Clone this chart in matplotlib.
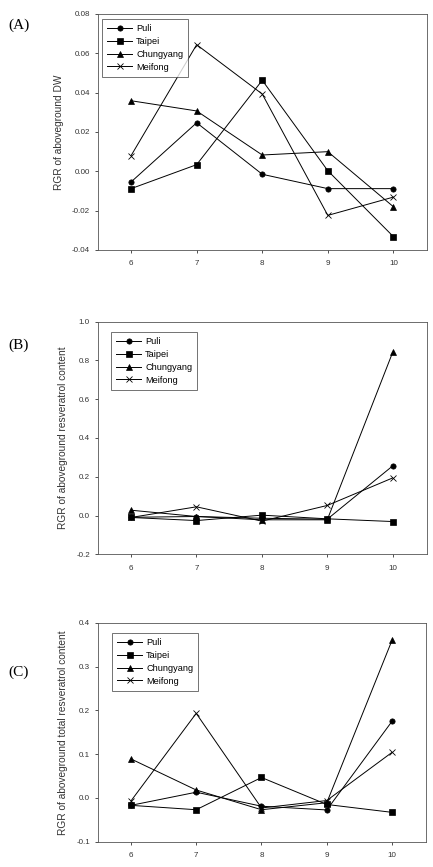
import matplotlib
matplotlib.use("Agg")
import matplotlib.pyplot as plt

months = [6, 7, 8, 9, 10]
series_names = ["Puli", "Taipei", "Chungyang", "Meifong"]
markers = ["o", "s", "^", "x"]

# Panel A: RGR of aboveground DW
a_puli = [-0.0054, 0.0247, -0.0015, -0.0088, -0.0088]
a_taipei = [-0.0088, 0.0034, 0.0463, 0.0003, -0.0332]
a_chungyang = [0.0359, 0.0307, 0.0083, 0.0100, -0.0180]
a_meifong = [0.0080, 0.0644, 0.0393, -0.0224, -0.0131]

# Panel B: RGR of aboveground resveratrol content
b_puli = [-0.009, -0.005, -0.014, -0.019, 0.256]
b_taipei = [-0.010, -0.026, 0.002, -0.017, -0.031]
b_chungyang = [0.0275, -0.005, -0.022, -0.022, 0.842]
b_meifong = [-0.010, 0.045, -0.029, 0.052, 0.194]

# Panel C: RGR of aboveground total resveratrol content
c_puli = [-0.017, 0.013, -0.019, -0.0275, 0.175]
c_taipei = [-0.017, -0.027, 0.0466, -0.015, -0.033]
c_chungyang = [0.089, 0.018, -0.027, -0.011, 0.360]
c_meifong = [-0.007, 0.193, -0.023, -0.006, 0.104]

panels = [
    ("(A)", "RGR of aboveground DW", [a_puli, a_taipei, a_chungyang, a_meifong],
     (-0.04, 0.08), [-0.04, -0.02, 0.00, 0.02, 0.04, 0.06, 0.08], "{:.2f}"),
    ("(B)", "RGR of aboveground resveratrol content", [b_puli, b_taipei, b_chungyang, b_meifong],
     (-0.2, 1.0), [-0.2, 0.0, 0.2, 0.4, 0.6, 0.8, 1.0], "{:.1f}"),
    ("(C)", "RGR of aboveground total resveratrol content", [c_puli, c_taipei, c_chungyang, c_meifong],
     (-0.1, 0.4), [-0.1, 0.0, 0.1, 0.2, 0.3, 0.4], "{:.1f}"),
]

W, H = 433, 867
fig = plt.figure(figsize=(W / 100, H / 100), dpi=100)
plt.rcParams['font.family'] = ['Liberation Sans', 'DejaVu Sans']

# axes boxes in pixels: (left, top, right, bottom)
boxes = [(98.3, 14, 427.5, 250), (98.3, 321.7, 426.7, 554.3), (98.3, 622.7, 426, 841.7)]
label_y = [25, 345, 672]
legend_offsets = [(3.4, 5.0), (12.4, 10.3), (13.4, 10.3)]

for (plabel, ylabel, data, ylim, yticks, fmt), (l, t, r, b), ly, (dx, dy) in zip(
        panels, boxes, label_y, legend_offsets):
    ax = fig.add_axes([l / W, 1 - b / H, (r - l) / W, (b - t) / H])
    for name, mk, vals in zip(series_names, markers, data):
        ax.plot(months, vals, color="black", lw=0.7, marker=mk, ms=3.8,
                mew=0.6 if mk == "x" else 0.5, mfc="black", mec="black", label=name)
    ax.set_xlim(5.5, 10.52)
    ax.set_ylim(*ylim)
    ax.set_xticks(months)
    ax.set_yticks(yticks)
    ax.set_yticklabels([fmt.format(v) for v in yticks])
    ax.tick_params(labelsize=5.8, length=2.5, width=0.6, colors="#333333")
    ax.tick_params(axis="x", pad=5)
    for s in ax.spines.values():
        s.set_linewidth(0.6)
        s.set_color("#555555")
    ax.set_ylabel(ylabel, fontsize=7.3, color="#333333", labelpad=6)
    leg = ax.legend(loc="upper left", fontsize=6.6, frameon=True, fancybox=False,
                    edgecolor="#333333", handlelength=2.8, borderpad=0.55,
                    labelspacing=0.42, handletextpad=0.4, borderaxespad=0.0,
                    bbox_to_anchor=(dx / (r - l), 1 - dy / (b - t)))
    leg.get_frame().set_linewidth(0.6)
    fig.text(8 / W, 1 - ly / H, plabel, fontsize=11, family="Liberation Serif",
             va="center", ha="left")

fig.savefig("out.png", dpi=100)
